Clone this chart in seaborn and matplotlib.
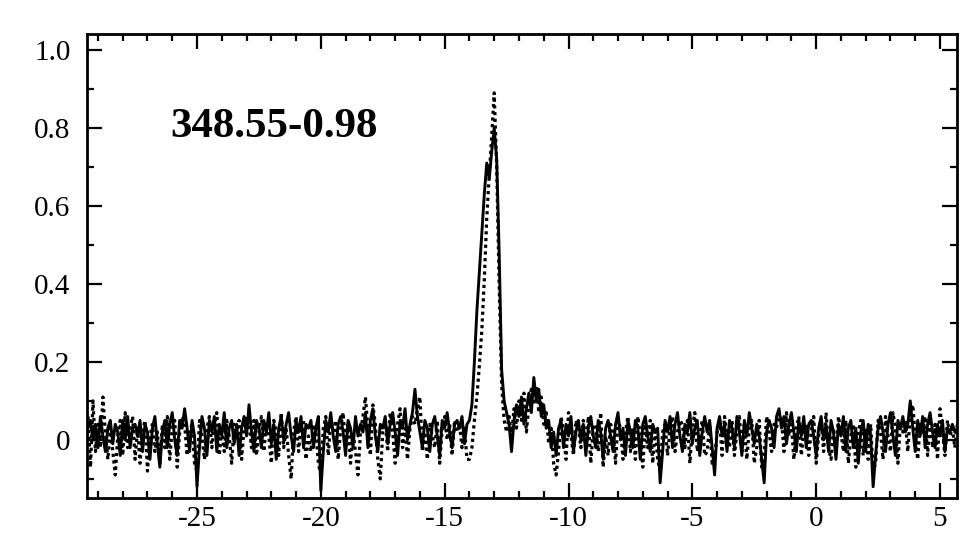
import numpy as np
import pandas as pd
import matplotlib
matplotlib.use('Agg')
import matplotlib.pyplot as plt
import seaborn as sns
from matplotlib.ticker import MultipleLocator

# spectrum values, one channel every 0.1 km/s from -29.4
solid = [
    0.03, 0.05, 0.00, 0.04, -0.02, 0.06, 0.01, -0.03, 0.03, 0.05,
    -0.01, 0.04, 0.02, -0.04, 0.05, 0.00, 0.06, -0.02, 0.03, 0.04,
    0.01, 0.05, -0.03, 0.04, 0.02, -0.05, 0.03, 0.06, -0.01, -0.07,
    0.02, 0.05, -0.02, 0.04, 0.07, 0.00, -0.04, 0.05, 0.03, 0.08,
    0.03, -0.03, 0.05, 0.01, -0.12, -0.02, 0.06, 0.03, -0.04, 0.05,
    0.02, 0.06, -0.03, 0.04, 0.01, 0.07, -0.02, 0.03, 0.05, -0.01,
    0.04, -0.04, 0.03, 0.06, 0.01, 0.09, 0.02, -0.03, 0.05, 0.03,
    -0.02, 0.05, 0.02, 0.07, -0.01, 0.04, -0.05, 0.03, 0.06, 0.00,
    0.04, 0.07, 0.01, -0.03, 0.05, 0.02, 0.06, -0.02, 0.04, 0.03,
    0.05, -0.02, 0.03, 0.06, -0.13, -0.03, 0.05, 0.02, 0.07, 0.01,
    -0.03, 0.04, 0.06, 0.02, -0.04, 0.05, 0.03, -0.02, 0.06, 0.01,
    0.04, 0.02, 0.07, -0.02, 0.05, 0.08, 0.01, -0.03, 0.04, 0.03,
    0.06, -0.01, 0.04, 0.07, 0.02, -0.04, 0.05, 0.03, 0.08, 0.00,
    0.04, 0.07, 0.13, 0.06, 0.02, -0.02, 0.05, 0.03, -0.03, 0.04,
    0.06, 0.01, -0.04, 0.05, 0.03, 0.07, 0.02, -0.02, 0.04, 0.05,
    0.03, 0.06, -0.01, 0.04, 0.05, 0.09, 0.20, 0.33, 0.43, 0.53,
    0.63, 0.71, 0.67, 0.74, 0.80, 0.72, 0.48, 0.18, 0.10, 0.07,
    0.04, -0.03, 0.05, 0.09, 0.06, 0.11, 0.04, 0.08, 0.12, 0.07,
    0.16, 0.10, 0.13, 0.06, 0.09, 0.03, 0.05, -0.02, 0.02, -0.04,
    0.03, 0.05, -0.02, 0.04, 0.01, 0.06, -0.03, 0.02, 0.05, 0.00,
    0.04, -0.04, 0.03, 0.06, 0.01, -0.02, 0.05, 0.02, -0.05, 0.03,
    0.05, 0.01, -0.03, 0.04, 0.07, 0.00, 0.03, -0.04, 0.05, 0.02,
    -0.02, 0.05, 0.03, -0.05, 0.04, 0.06, 0.01, -0.03, 0.04, 0.02,
    0.03, -0.11, -0.03, 0.05, 0.02, 0.06, -0.02, 0.04, 0.07, 0.01,
    -0.03, 0.04, 0.02, 0.07, -0.01, 0.03, 0.05, -0.04, 0.02, 0.06,
    0.02, 0.05, -0.02, -0.09, 0.03, 0.06, 0.01, 0.04, -0.03, 0.05,
    0.03, -0.02, 0.06, 0.02, -0.04, 0.05, 0.01, 0.07, 0.03, -0.01,
    0.04, 0.01, -0.05, -0.11, 0.02, 0.05, 0.03, -0.02, 0.06, 0.08,
    0.03, 0.06, -0.01, 0.04, 0.07, 0.02, -0.03, 0.05, 0.01, 0.06,
    -0.02, 0.04, 0.05, 0.01, -0.04, 0.03, 0.06, 0.00, 0.04, -0.03,
    0.05, 0.02, -0.05, 0.04, 0.01, 0.06, -0.03, 0.03, 0.05, -0.02,
    0.03, -0.06, 0.02, 0.05, -0.03, 0.04, 0.01, -0.12, -0.04, 0.03,
    0.06, 0.02, -0.03, 0.04, 0.07, 0.01, -0.04, 0.05, 0.03, 0.06,
    0.02, 0.04, 0.10, 0.03, -0.03, 0.05, 0.01, 0.06, -0.02, 0.04,
    0.07, 0.02, -0.02, 0.04, 0.01, 0.05, -0.03, 0.03, 0.02, 0.04,
    0.02, 0.03,
]
dotted = [
    0.06, -0.07, 0.10, -0.03, 0.04, -0.02, 0.11, 0.02, -0.05, 0.03,
    -0.03, -0.09, 0.01, 0.05, -0.04, 0.07, -0.02, 0.03, 0.06, -0.05,
    0.03, -0.06, 0.02, 0.05, -0.08, 0.01, 0.04, -0.03, 0.02, -0.06,
    0.04, -0.02, 0.06, -0.05, 0.03, 0.05, -0.07, 0.02, 0.06, 0.04,
    -0.04, 0.02, 0.04, -0.06, -0.08, 0.05, 0.01, -0.05, 0.03, 0.06,
    -0.02, 0.04, 0.07, -0.04, 0.03, -0.03, 0.05, 0.01, -0.06, 0.04,
    0.02, 0.05, -0.05, 0.03, 0.06, 0.04, -0.02, 0.05, -0.04, 0.02,
    0.06, -0.03, 0.04, 0.01, -0.06, 0.05, 0.02, -0.04, 0.07, -0.02,
    0.03, -0.04, -0.10, 0.02, 0.06, -0.03, 0.04, 0.05, -0.05, 0.01,
    -0.03, 0.04, 0.02, -0.06, -0.09, 0.03, 0.06, -0.04, 0.05, 0.02,
    0.05, -0.05, 0.03, 0.07, -0.02, 0.04, -0.06, 0.02, -0.03, -0.09,
    0.02, 0.06, 0.11, 0.03, -0.04, 0.09, 0.04, -0.05, -0.10, 0.02,
    0.05, -0.03, 0.07, 0.02, -0.06, 0.04, 0.08, -0.02, 0.03, -0.05,
    0.03, 0.06, 0.04, 0.08, 0.11, -0.03, 0.02, -0.05, 0.04, 0.01,
    -0.02, 0.05, -0.06, 0.03, 0.06, 0.00, 0.04, -0.04, 0.05, 0.02,
    0.04, -0.02, 0.03, -0.05, -0.05, -0.02, 0.05, 0.11, 0.19, 0.28,
    0.41, 0.57, 0.68, 0.78, 0.89, 0.70, 0.40, 0.14, 0.05, 0.02,
    0.06, 0.01, 0.08, 0.03, 0.10, 0.05, 0.12, 0.02, 0.09, 0.13,
    0.09, 0.14, 0.07, 0.11, 0.04, 0.07, -0.01, 0.03, -0.06, -0.09,
    -0.03, 0.06, 0.02, -0.05, 0.07, 0.01, -0.04, 0.05, 0.03, -0.02,
    0.05, -0.02, 0.06, -0.06, 0.03, 0.04, -0.03, 0.07, -0.07, 0.01,
    -0.04, 0.04, 0.02, -0.06, 0.05, 0.03, -0.05, 0.02, 0.06, -0.03,
    0.03, -0.05, 0.06, 0.01, -0.07, 0.04, -0.02, 0.05, -0.06, 0.03,
    -0.05, -0.08, 0.02, 0.04, -0.04, 0.03, 0.06, -0.03, 0.02, 0.05,
    0.04, -0.02, 0.05, -0.06, 0.03, 0.07, -0.03, 0.01, 0.05, -0.04,
    -0.03, 0.04, -0.06, -0.05, 0.02, 0.05, -0.04, 0.06, 0.01, -0.02,
    0.05, -0.04, 0.02, 0.06, -0.03, 0.04, -0.05, 0.03, 0.05, -0.06,
    -0.02, 0.05, -0.07, -0.04, 0.06, 0.02, -0.03, 0.04, 0.03, 0.07,
    0.05, -0.03, 0.07, 0.01, 0.04, -0.05, 0.03, 0.06, -0.04, 0.02,
    0.04, -0.04, 0.02, 0.06, -0.06, 0.01, 0.05, -0.03, 0.07, -0.02,
    -0.05, 0.03, -0.04, 0.06, 0.02, -0.03, 0.05, -0.06, 0.01, 0.04,
    -0.07, 0.02, 0.05, -0.04, 0.03, -0.05, 0.04, -0.08, -0.06, 0.05,
    0.02, -0.05, 0.06, 0.01, -0.03, 0.07, 0.03, -0.06, 0.04, 0.02,
    0.05, -0.03, 0.07, 0.09, 0.01, -0.05, 0.04, 0.02, 0.06, -0.04,
    0.06, -0.02, 0.04, -0.05, 0.08, 0.02, -0.04, 0.05, 0.01, 0.03,
    -0.02, 0.04,
]
v_start = -29.4
v_step = 0.1
velocity = np.round(v_start + v_step * np.arange(len(solid)), 2)

x_ticks = [-25, -20, -15, -10, -5, 0, 5]
y_ticks = [0, 0.2, 0.4, 0.6, 0.8, 1.0]
y_tick_labels = ['0', '0.2', '0.4', '0.6', '0.8', '1.0']
source_name = '348.55-0.98'

df = pd.DataFrame({'v': velocity, 'solid': solid, 'dotted': dotted})

sns.set_theme(style='ticks')
plt.rcParams['font.family'] = ['Liberation Serif', 'DejaVu Serif']
plt.rcParams['axes.unicode_minus'] = False

fig = plt.figure(figsize=(9.65, 5.4), dpi=100)
ax = fig.add_axes([0.0902, 0.0778, 0.9016, 0.8593])

sns.lineplot(data=df, x='v', y='dotted', ax=ax, color='black', linewidth=2.3,
             linestyle=(0, (1.0, 1.1)), estimator=None, sort=False)
sns.lineplot(data=df, x='v', y='solid', ax=ax, color='black', linewidth=2.1,
             estimator=None, sort=False)

ax.set_xlim(-29.44, 5.69)
ax.set_ylim(-0.149, 1.041)
ax.set_xlabel('')
ax.set_ylabel('')

ax.set_xticks(x_ticks)
ax.set_xticklabels([str(t) for t in x_ticks])
ax.set_yticks(y_ticks)
ax.set_yticklabels(y_tick_labels)
ax.xaxis.set_minor_locator(MultipleLocator(1))
ax.yaxis.set_minor_locator(MultipleLocator(0.1))

ax.tick_params(which='both', direction='in', top=True, right=True,
               color='black', width=1.6, labelsize=21, labelcolor='black')
ax.tick_params(which='major', length=11)
ax.tick_params(which='minor', length=5)
ax.tick_params(axis='x', pad=6)
ax.tick_params(axis='y', pad=12)

for sp in ax.spines.values():
    sp.set_linewidth(2.0)
    sp.set_color('black')

ax.text(-26.09, 0.777, source_name, fontsize=31, fontweight='bold',
        ha='left', va='baseline', color='black')

fig.savefig('out.png', dpi=100)
